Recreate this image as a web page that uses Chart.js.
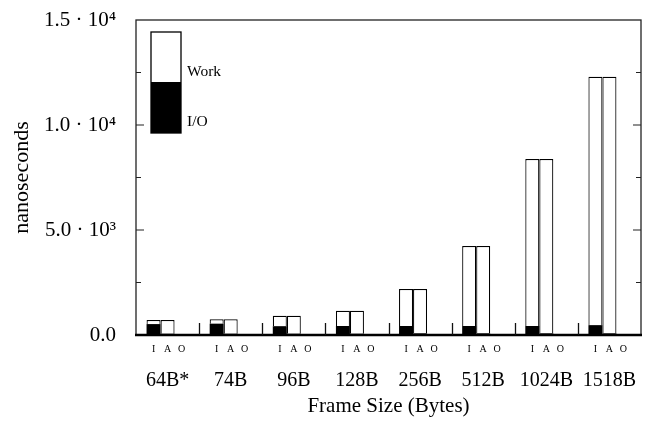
<!DOCTYPE html>
<html><head><meta charset="utf-8">
<script src="https://cdn.jsdelivr.net/npm/chart.js@4"></script>
<style>html,body{margin:0;padding:0;background:#fff;} #wrap{width:652px;height:429px;}</style>
</head><body><div id="wrap"><canvas id="c" width="652" height="429"></canvas></div>
<script>
// ---- data ----
const categories = ['64B*', '74B', '96B', '128B', '256B', '512B', '1024B', '1518B'];
const barLetters = ['I', 'A', 'O'];
const ioI   = [520, 540, 420, 430, 430, 430, 430, 470];
const workI = [190, 205, 500, 725, 1760, 3810, 7950, 11830];
const ioA   = [60, 60, 60, 60, 80, 80, 80, 80];
const workA = [650, 685, 860, 1095, 2110, 4160, 8300, 12220];
const valO  = [0, 0, 0, 0, 0, 0, 0, 0];
const yTickLabels = {0: '0.0', 5000: '5.0 · 10³', 10000: '1.0 · 10⁴', 15000: '1.5 · 10⁴'};
const legendLabels = ['Work', 'I/O'];
const yTitle = 'nanoseconds';
const xTitle = 'Frame Size (Bytes)';

const SERIF = "'Liberation Serif', 'Times New Roman', serif";
const bw = 1.2;

const decor = {
  id: 'decor',
  afterDraw(chart) {
    const ctx = chart.ctx;
    const a = chart.chartArea;
    const ys = chart.scales.y, xs = chart.scales.x;
    ctx.save();
    // frame
    ctx.strokeStyle = '#222';
    ctx.lineWidth = 1.3;
    ctx.strokeRect(a.left, a.top, a.right - a.left, a.bottom - a.top);
    ctx.strokeStyle = '#000';
    ctx.lineWidth = 2.4;
    ctx.beginPath(); ctx.moveTo(a.left - 1, a.bottom); ctx.lineTo(a.right + 1, a.bottom); ctx.stroke();
    // inward y ticks
    ctx.lineWidth = 1.2;
    ctx.strokeStyle = '#222';
    for (let v = 2500; v < 15000; v += 2500) {
      const y = ys.getPixelForValue(v);
      const len = (v % 5000 === 0) ? 8 : 5;
      ctx.beginPath();
      ctx.moveTo(a.left, y); ctx.lineTo(a.left + len, y);
      ctx.moveTo(a.right, y); ctx.lineTo(a.right - len, y);
      ctx.stroke();
    }
    // group separators
    ctx.lineWidth = 1.3;
    ctx.strokeStyle = '#111';
    for (let i = 1; i < categories.length; i++) {
      const x = Math.round((xs.getPixelForValue(i - 1) + xs.getPixelForValue(i)) / 2) + 0.5;
      ctx.beginPath(); ctx.moveTo(x, a.bottom - 12); ctx.lineTo(x, a.bottom); ctx.stroke();
    }
    // I A O letters
    ctx.fillStyle = '#000';
    ctx.font = '10px ' + SERIF;
    ctx.textAlign = 'center';
    ctx.textBaseline = 'middle';
    const stackIdx = [0, 2, 4];
    for (let i = 0; i < categories.length; i++) {
      stackIdx.forEach((d, k) => {
        const el = chart.getDatasetMeta(d).data[i];
        ctx.fillText(barLetters[k], el.x, a.bottom + 14);
      });
    }
    // legend
    const lx = 151, ly = 32, lw = 30, lh = 101;
    const split = 82;
    ctx.fillStyle = '#fff';
    ctx.fillRect(lx, ly, lw, split - ly);
    ctx.fillStyle = '#000';
    ctx.fillRect(lx, split, lw, ly + lh - split);
    ctx.strokeStyle = '#000';
    ctx.lineWidth = 1.3;
    ctx.strokeRect(lx, ly, lw, lh);
    ctx.font = '15.5px ' + SERIF;
    ctx.textAlign = 'left';
    ctx.fillText(legendLabels[0], lx + lw + 6, 72);
    ctx.fillText(legendLabels[1], lx + lw + 6, 122);
    ctx.restore();
  }
};

new Chart(document.getElementById('c'), {
  type: 'bar',
  data: {
    labels: categories,
    datasets: [
      {label: 'I/O (I)', stack: 'I', data: ioI, backgroundColor: '#000', borderWidth: 0},
      {label: 'Work (I)', stack: 'I', data: workI, backgroundColor: '#fff', borderColor: '#000',
       borderSkipped: false, borderWidth: {top: bw, left: bw, right: bw, bottom: 0}},
      {label: 'I/O (A)', stack: 'A', data: ioA, backgroundColor: '#000', borderWidth: 0},
      {label: 'Work (A)', stack: 'A', data: workA, backgroundColor: '#fff', borderColor: '#000',
       borderSkipped: false, borderWidth: {top: bw, left: bw, right: bw, bottom: 0}},
      {label: 'O', stack: 'O', data: valO, backgroundColor: '#fff', borderColor: '#000', borderWidth: 0}
    ]
  },
  options: {
    responsive: false,
    animation: false,
    devicePixelRatio: 1,
    layout: {padding: {top: 20, right: 11, left: 0, bottom: 0}},
    plugins: {legend: {display: false}, tooltip: {enabled: false}},
    datasets: {bar: {categoryPercentage: 0.666, barPercentage: 1.0}},
    scales: {
      x: {
        stacked: true,
        grid: {display: false, drawTicks: false},
        border: {display: false},
        ticks: {color: '#000', padding: 34, font: {family: SERIF, size: 20}, maxRotation: 0, autoSkip: false},
        title: {display: true, text: xTitle, color: '#000', font: {family: SERIF, size: 21}, padding: {top: 0, bottom: 10}},
        afterFit(s) { s.height = 94; s.paddingLeft = 0; s.paddingRight = 0; }
      },
      y: {
        stacked: true,
        min: 0, max: 15000,
        grid: {display: false, drawTicks: false},
        border: {display: false},
        ticks: {stepSize: 5000, color: '#000', padding: 20, font: {family: SERIF, size: 21},
                callback: (v) => yTickLabels[v]},
        title: {display: true, text: yTitle, color: '#000', font: {family: SERIF, size: 22}, padding: {top: 9, bottom: 0}},
        afterFit(s) { s.width = 136; s.paddingTop = 0; s.paddingBottom = 0; }
      }
    }
  },
  plugins: [decor]
});
</script>
</body></html>
